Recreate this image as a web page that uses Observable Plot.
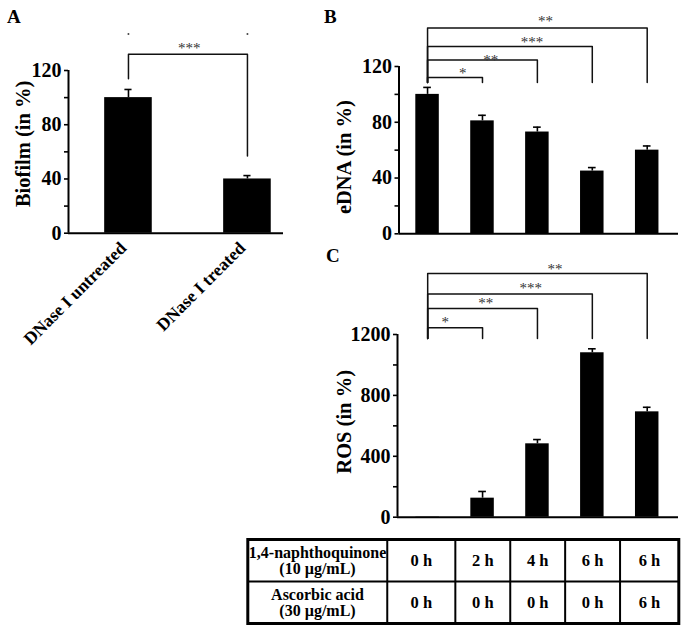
<!DOCTYPE html>
<html><head><meta charset="utf-8">
<script src="https://cdn.jsdelivr.net/npm/d3@7"></script>
<script src="https://cdn.jsdelivr.net/npm/@observablehq/plot@0.6"></script>
<style>
body{margin:0;background:#fff;}
#fig{position:relative;width:685px;height:630px;font-family:"Liberation Serif","Times New Roman",serif;overflow:hidden;}
.slot{position:absolute;}
.plabel{position:absolute;font-weight:bold;font-size:19px;line-height:1;}
</style></head><body><div id="fig"></div>
<script>
// ---------- data ----------
// Panel A
const catsA = ["DNase I untreated", "DNase I treated"];
const biofilm = [100, 40];
const biofilmErr = [6, 2.5];
const ticksA = [0, 20, 40, 60, 80, 100, 120];
const tickLabelsA = [0, 40, 80, 120];
const sigA = [{from: 0, to: 1, y: 132, yFrom: 114, yTo: 57, label: "***", labelX: 0.51, labelY: 138.4}];
const dotsA = [{i: 0, v: 147}, {i: 1, v: 147}];

// Panels B and C (five treatment conditions)
const eDNA = [100, 81, 73, 45, 60];
const eDNAErr = [5, 4, 3.5, 2.5, 3];
const ticksB = [0, 20, 40, 60, 80, 100, 120];
const tickLabelsB = [0, 40, 80, 120];
const sigB = [
  {from: 0, to: 1, y: 112.1, yFrom: 108.5, yTo: 108.5, label: "*", labelX: 0.64, labelY: 117},
  {from: 0, to: 2, y: 124.6, yFrom: 108.5, yTo: 108.5, label: "**", labelX: 1.15, labelY: 127},
  {from: 0, to: 3, y: 134.4, yFrom: 108.5, yTo: 108.5, label: "***", labelX: 1.90, labelY: 139.4},
  {from: 0, to: 4, y: 147.6, yFrom: 108.5, yTo: 108.5, label: "**", labelX: 2.15, labelY: 154.6}
];

const ros = [2, 125, 482, 1080, 692];
const rosErr = [0, 44, 28, 26, 30];
const ticksC = [0, 200, 400, 600, 800, 1000, 1200];
const tickLabelsC = [0, 400, 800, 1200];
const sigC = [
  {from: 0, to: 1, y: 1244, yFrom: 1173, yTo: 1173, label: "*", labelX: 0.32, labelY: 1303},
  {from: 0, to: 2, y: 1371, yFrom: 1173, yTo: 1173, label: "**", labelX: 1.06, labelY: 1423},
  {from: 0, to: 3, y: 1466, yFrom: 1173, yTo: 1173, label: "***", labelX: 1.88, labelY: 1526},
  {from: 0, to: 4, y: 1601, yFrom: 1173, yTo: 1173, label: "**", labelX: 2.32, labelY: 1649}
];

// Treatment table
const rowLabels = ["1,4-naphthoquinone\n(10 µg/mL)", "Ascorbic acid\n(30 µg/mL)"];
const naphthoquinone = ["0 h", "2 h", "4 h", "6 h", "6 h"];
const ascorbicAcid = ["0 h", "0 h", "0 h", "0 h", "6 h"];

// ---------- layout ----------
const FONT = "'Liberation Serif', 'Times New Roman', serif";
const fig = document.getElementById("fig");
function place(node, left, top) {
  const d = document.createElement("div");
  d.className = "slot";
  d.style.left = left + "px";
  d.style.top = top + "px";
  d.appendChild(node);
  fig.appendChild(d);
}
function panelLabel(t, left, top) {
  const d = document.createElement("div");
  d.className = "plabel";
  d.textContent = t;
  d.style.left = left + "px";
  d.style.top = top + "px";
  fig.appendChild(d);
}

function barPanel(o) {
  const data = o.values.map((v, i) => ({i, v, e: o.errs[i]}));
  const withErr = data.filter(d => d.e > 0);
  const pts = o.sig.flatMap((s, k) => [
    {k, x: s.from, y: s.yFrom}, {k, x: s.from, y: s.y},
    {k, x: s.to, y: s.y}, {k, x: s.to, y: s.yTo}
  ]);
  const marks = [
    Plot.rect(data, {x1: d => d.i - o.halfWidth, x2: d => d.i + o.halfWidth, y1: () => 0, y2: "v", fill: "black"}),
    Plot.ruleX(withErr, {x: "i", y1: "v", y2: d => d.v + d.e, stroke: "black", strokeWidth: 1.6}),
    Plot.ruleY(withErr, {y: d => d.v + d.e, x1: d => d.i - o.capHalf, x2: d => d.i + o.capHalf, stroke: "black", strokeWidth: 1.6}),
    Plot.ruleX([o.xDomain[0]], {stroke: "black", strokeWidth: 2}),
    Plot.ruleY([o.yDomain[0]], {stroke: "black", strokeWidth: 2}),
    Plot.axisY({ticks: o.ticks, tickSize: 4, tickPadding: 3, strokeWidth: 1.6, label: null,
      tickFormat: d => o.tickLabels.includes(d) ? String(d) : "",
      fontSize: 20, fontWeight: "bold", fontFamily: FONT}),
    Plot.line(pts, {x: "x", y: "y", z: "k", stroke: "#111", strokeWidth: 1.5}),
    Plot.text(o.sig, {x: "labelX", y: "labelY", text: "label", fontSize: 15, fontWeight: "normal", fill: "#333", dy: 3}),
    Plot.text([o.yLabel], {text: d => d, frameAnchor: "left", textAnchor: "middle", lineAnchor: "middle",
      rotate: -90, dx: o.labelDx, dy: o.labelDy, fontSize: 20.5, fontWeight: "bold", fontFamily: FONT})
  ];
  if (o.extra) marks.push(...o.extra);
  return Plot.plot({
    width: o.width, height: o.height,
    marginLeft: o.margin[3], marginRight: o.margin[1], marginTop: o.margin[0], marginBottom: o.margin[2],
    x: {type: "linear", domain: o.xDomain, axis: null},
    y: {domain: o.yDomain, label: null, axis: null},
    style: {fontFamily: FONT, fontWeight: "bold", overflow: "visible", background: "transparent"},
    marks
  });
}

// Panel A
const svgA = barPanel({
  values: biofilm, errs: biofilmErr, ticks: ticksA, tickLabels: tickLabelsA,
  yDomain: [0, 120], xDomain: [-0.504, 1.303], halfWidth: 0.2, capHalf: 0.03,
  sig: sigA, yLabel: "Biofilm (in %)", labelDx: -45, labelDy: -8,
  width: 300, height: 360, margin: [70, 17, 127.3, 68],
  extra: [
    Plot.dot(dotsA, {x: "i", y: "v", r: 1, fill: "#444", stroke: null}),
    Plot.axisX({ticks: d3.range(catsA.length), tickFormat: i => catsA[i], tickRotate: -45,
      tickSize: 0, tickPadding: 12, dx: -5, fontSize: 17.5, fontWeight: "bold", fontFamily: FONT, label: null})
  ]
});
place(svgA, 0, 0);

// Panel B
const svgB = barPanel({
  values: eDNA, errs: eDNAErr, ticks: ticksB, tickLabels: tickLabelsB,
  yDomain: [0, 120], xDomain: [-0.52, 4.57], halfWidth: 0.214, capHalf: 0.07,
  sig: sigB, yLabel: "eDNA (in %)", labelDx: -55, labelDy: 7,
  width: 365, height: 250, margin: [66, 7, 16.7, 78.5]
});
place(svgB, 320, 0);

// Panel C
const svgC = barPanel({
  values: ros, errs: rosErr, ticks: ticksC, tickLabels: tickLabelsC,
  yDomain: [0, 1200], xDomain: [-0.55, 4.57], halfWidth: 0.214, capHalf: 0.07,
  sig: sigC, yLabel: "ROS (in %)", labelDx: -53, labelDy: -4,
  width: 365, height: 270, margin: [84, 7, 3.3, 77]
});
place(svgC, 320, 250);

// Table
const labelEdge = -0.74;
const tableLeft = -3.28, tableRight = 4.57;
const colEdges = [labelEdge, ...d3.range(naphthoquinone.length - 1).map(i => i + 0.5), tableRight];
const cells = [];
naphthoquinone.forEach((t, i) => cells.push({x: (colEdges[i] + colEdges[i + 1]) / 2, row: 0, t}));
ascorbicAcid.forEach((t, i) => cells.push({x: (colEdges[i] + colEdges[i + 1]) / 2, row: 1, t}));
const svgT = Plot.plot({
  width: 455, height: 110, marginLeft: 17.3, marginRight: 6.7, marginTop: 19, marginBottom: 7,
  x: {type: "linear", domain: [tableLeft, tableRight], axis: null},
  y: {type: "linear", domain: [0, 2], reverse: true, axis: null},
  style: {fontFamily: FONT, fontWeight: "bold", overflow: "visible", background: "transparent"},
  marks: [
    Plot.ruleX(colEdges.slice(0, -1), {stroke: "black", strokeWidth: 2}),
    Plot.ruleY([1], {stroke: "black", strokeWidth: 2}),
    Plot.frame({stroke: "black", strokeWidth: 3}),
    Plot.text(cells, {x: "x", y: d => d.row + 0.5, text: "t", fontSize: 16.5, fontWeight: "bold"}),
    Plot.text(rowLabels, {x: () => (tableLeft + labelEdge) / 2, y: (d, i) => i + 0.5, text: d => d,
      fontSize: 16, fontWeight: "bold", lineHeight: 1.0})
  ]
});
place(svgT, 230, 520);

panelLabel("A", 7, 7);
panelLabel("B", 324, 7);
panelLabel("C", 326, 246);
</script>
</body></html>
